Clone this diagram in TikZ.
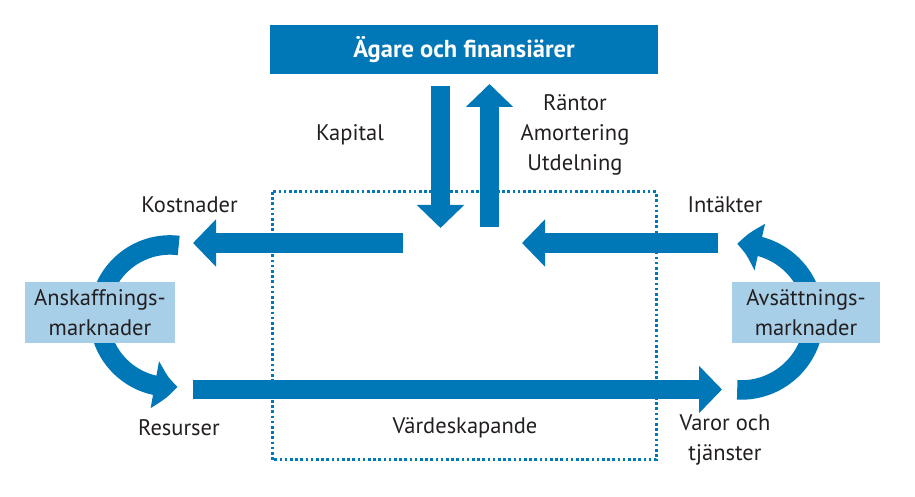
\documentclass[tikz,border=0pt]{standalone}
\usepackage{fontspec}
\setmainfont{PT Sans}
\usetikzlibrary{arrows.meta,positioning,bending}
\definecolor{flowblue}  {HTML}{0077B6}
\definecolor{marketblue}{HTML}{A8CFE8}
\definecolor{inkdark}   {HTML}{231F20}

\begin{document}
\begin{tikzpicture}[x=1pt,y=1pt,
    lbl/.style={font=\fontsize{22.5}{30}\selectfont, text=inkdark, align=center, inner sep=0pt},
    market/.style={lbl, fill=marketblue, minimum width=150pt, minimum height=61pt},
    flow/.style={flowblue, line width=19.5pt, -{Triangle[length=23pt,width=46pt]}},
    bendflow/.style={flow, -{Triangle[length=23pt,width=46pt,bend]}}]
  \useasboundingbox (0,0) rectangle (915,497);
  % value creation area
  \draw[flowblue, line width=3pt, dash pattern=on 2.6pt off 2.6pt] (272,305) rectangle (656,37);
  \node[fill=flowblue, minimum width=388pt, minimum height=49pt, inner sep=0pt,
        text=white, font=\fontsize{24.5}{28}\selectfont\bfseries] (owners) at (464,447.5) {Ägare och finansiärer};
  % capital in and out
  \coordinate (kapital-top) at (440.5,411);
  \coordinate (kapital-tip) at (440.5,269);
  \coordinate (return-foot) at (489.5,270);
  \coordinate (return-tip) at (489.5,413);
  \draw[flow] (kapital-top) -- (kapital-tip);
  \draw[flow] (return-foot) -- (return-tip);
  \node[lbl] (kapital) at (350,362) {Kapital};
  \node[lbl] (returns) at (575,362) {Räntor\\Amortering\\Utdelning};
  % money flows
  \coordinate (cost-start) at (403,254);
  \coordinate (cost-tip) at (193,254);
  \coordinate (income-start) at (718,254);
  \coordinate (income-tip) at (522,254);
  \draw[flow] (cost-start) -- (cost-tip);
  \draw[flow] (income-start) -- (income-tip);
  % real flow
  \coordinate (res-start) at (193,107.5);
  \coordinate (goods-tip) at (722,107.5);
  \draw[flow] (res-start) -- (goods-tip);
  % markets
  \coordinate (buy-top) at (178.7,251.5);
  \coordinate (sell-bottom) at (737.2,107.1);
  \draw[bendflow] (buy-top) arc[start angle=83, end angle=276, radius=71];
  \draw[bendflow] (sell-bottom) arc[start angle=-93, end angle=93, radius=73];
  \node[market] (buy) at (100,184.5) {Anskaffnings-\\marknader};
  \node[market, minimum width=148pt] (sell) at (806,184.5) {Avsättnings-\\marknader};
  % flow labels
  \node[lbl] (kostnader) at (189.5,292) {Kostnader};
  \node[lbl] (intakter) at (725,292) {Intäkter};
  \node[lbl] (resurser) at (179,69) {Resurser};
  \node[lbl] (varor) at (725,57) {Varor och\\tjänster};
  \node[lbl] (varde) at (465,69) {Värdeskapande};
\end{tikzpicture}
\end{document}
